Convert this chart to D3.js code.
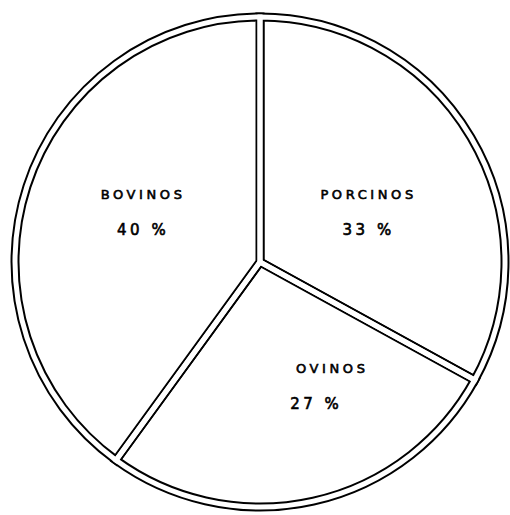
<!DOCTYPE html>
<html>
<head>
<meta charset="utf-8">
<script src="https://cdn.jsdelivr.net/npm/d3@7"></script>
<style>
  body { margin: 0; background: #fff; }
</style>
</head>
<body>
<div id="pie"></div>
<script>
// livestock shares, clockwise from 12 o'clock
const categories = ["PORCINOS", "OVINOS", "BOVINOS"];
const shares = [33, 27, 40];
const shareLabels = ["33 %", "27 %", "40 %"];

let width = 510, height = 515;
let cx = 260, cy = 262;
let radius = 245;

let svg = d3.select("#pie")
  .append("svg")
  .attr("width", width)
  .attr("height", height)
  .append("g")
  .attr("transform", `translate(${cx}, ${cy})`);

let pie = d3.pie().sort(null).value(d => d);
let arcs = pie(shares);

let arc = d3.arc().innerRadius(0).outerRadius(radius);
let labelArc = d3.arc().innerRadius(125).outerRadius(125);

// black first, then a thinner white stroke on top -> double outline with gaps
svg.selectAll(".outline")
  .data(arcs)
  .enter()
  .append("path")
  .attr("d", arc)
  .attr("fill", "white")
  .attr("stroke", "black")
  .attr("stroke-width", 9)
  .attr("stroke-linejoin", "miter");

svg.selectAll(".gap")
  .data(arcs)
  .enter()
  .append("path")
  .attr("d", arc)
  .attr("fill", "none")
  .attr("stroke", "white")
  .attr("stroke-width", 5)
  .attr("stroke-linejoin", "miter");

// hand placed nudges so labels sit like the original
const nudge = [[-1, 14], [43, 2], [0, -11]];

arcs.forEach(function (a, i) {
  let c = labelArc.centroid(a);
  let x = c[0] + nudge[i][0];
  let y = c[1] + nudge[i][1];

  svg.append("text")
    .attr("x", x + 2)
    .attr("y", y - 13)
    .attr("text-anchor", "middle")
    .attr("font-family", "DejaVu Sans")
    .attr("font-size", 13)
    .attr("letter-spacing", 3.6)
    .attr("stroke", "black")
    .attr("stroke-width", 0.6)
    .text(categories[i]);

  svg.append("text")
    .attr("x", x + 2 - (i === 1 ? 16 : 0))
    .attr("y", y + 23)
    .attr("text-anchor", "middle")
    .attr("font-family", "DejaVu Sans")
    .attr("font-size", 15)
    .attr("letter-spacing", 3.5)
    .attr("stroke", "black")
    .attr("stroke-width", 0.6)
    .text(shareLabels[i]);
});
</script>
</body>
</html>
